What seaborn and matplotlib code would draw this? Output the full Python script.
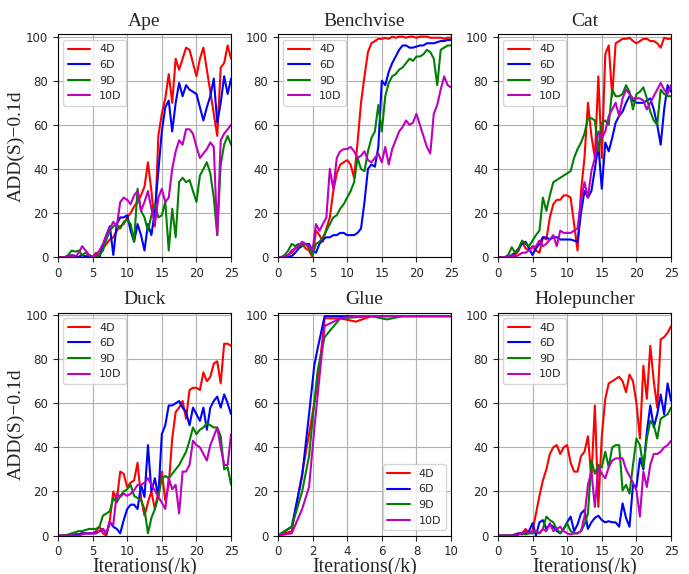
import numpy as np
import pandas as pd
import seaborn as sns
import matplotlib.pyplot as plt

# iterations (k) for the 25k runs, sampled every 0.5k
iters = np.arange(0, 25.01, 0.5)
glue_iters = [0, 0.8, 1.4, 1.8, 2.1, 2.3, 2.7, 3.6, 4.5, 5.4, 6.3, 7.2, 8.1, 9.0, 10.0]

dims = ['4D', '6D', '9D', '10D']
colors = ['r', 'b', 'g', 'm']

ape_4d = [0, 0, 0, 0, 0, 0.5, 0, 1, 0.5, 1, 0, 2, 1, 4, 6, 8, 9, 12, 14, 15, 18, 20, 23, 25, 28, 32,
          43, 30, 14, 55, 65, 72, 83, 70, 90, 85, 90, 95, 94, 88, 82, 90, 95, 85, 75, 65, 55, 86, 88, 96, 90]
ape_6d = [0, 0, 0, 0, 1, 0.5, 0, 1, 0, 0.5, 0, 1, 0, 5, 10, 14, 1, 15, 18, 18, 19, 12, 7, 15, 10, 3,
          15, 10, 21, 39, 57, 68, 71, 57, 70, 79, 73, 78, 76, 75, 74, 68, 62, 68, 73, 81, 61, 70, 82, 74, 81]
ape_9d = [0, 0, 0, 1, 3, 2.5, 3, 1, 2, 1, 0, 0, 1, 3, 8, 12, 14, 15, 13, 16, 17, 15, 7, 31, 21, 18,
          12, 19, 24, 18, 19, 25, 3, 22, 9, 34, 36, 34, 35, 30, 25, 37, 40, 43, 38, 27, 10, 42, 51, 55, 51]
ape_10d = [0, 0, 0, 0, 1, 0, 2, 5, 3, 1, 0, 1, 3, 6, 10, 13, 16, 14, 25, 27, 26, 24, 28, 30, 21, 25,
           30, 22, 15, 27, 31, 25, 27, 40, 48, 53, 51, 58, 58, 56, 50, 45, 47, 49, 52, 50, 10, 53, 56, 58, 60]

bench_4d = [0, 0, 0.5, 1, 2, 4, 5, 6, 4, 3, 0, 12, 10, 7, 13, 18, 30, 38, 42, 43, 44, 42, 36, 52, 70, 82,
            93, 97, 98, 99, 99, 99.5, 99, 100, 99.5, 100, 100, 99.5, 100, 100, 99.5, 100, 100, 100, 99.5,
            99.5, 99.5, 99.5, 99, 99.5, 99.5]
bench_6d = [0, 0, 0, 0, 0.5, 2, 4, 5, 6, 6, 3, 2, 6, 8, 9, 9, 10, 10, 11, 11, 10, 10, 10, 11, 13, 25,
            40, 42, 41, 50, 80, 78, 84, 88, 91, 94, 96, 96, 95, 95, 95.5, 96, 96, 97, 97, 97, 97.5, 98,
            98, 98.5, 98.5]
bench_9d = [0, 0, 1, 3, 6, 5, 6, 5, 6, 4, 1, 6, 7, 9, 12, 15, 18, 19, 22, 24, 27, 30, 34, 45, 40, 39,
            48, 54, 57, 69, 57, 73, 79, 82, 83, 85, 86, 88, 90, 89, 91, 91, 92, 94, 93, 90, 78, 94, 95,
            96, 96]
bench_10d = [0, 0, 0.5, 1, 3, 4, 5, 7, 6, 5, 3, 15, 12, 15, 18, 40, 31, 45, 48, 49, 49, 50, 48, 45, 46,
             48, 44, 43, 45, 47, 43, 50, 42, 49, 53, 57, 59, 62, 60, 61, 65, 60, 55, 50, 47, 65, 69, 76,
             82, 78, 77]

cat_4d = [0, 0, 0, 0, 0, 1, 3, 7, 4, 3, 5, 3, 2, 9, 8, 18, 24, 26, 26, 28, 28, 27, 15, 3, 30, 45, 70,
          55, 45, 82, 45, 92, 96, 73, 97, 98, 99, 99, 99.5, 98, 97, 98, 99, 99, 98, 98, 97, 95, 99.5,
          99, 99]
cat_6d = [0, 0, 0, 0, 1, 2, 4, 6, 7, 4, 1, 4, 6, 9, 9, 8, 9, 9, 8, 8, 8, 8, 7.5, 7, 20, 30, 27, 30,
          40, 51, 31, 52, 48, 54, 61, 64, 66, 70, 73, 71, 70, 70, 70, 71, 72, 67, 60, 51, 67, 78, 75]
cat_9d = [0, 0, 0, 1, 4.5, 2, 4, 7.5, 6, 5, 7.5, 10, 12, 27, 21, 28, 34, 35, 36, 37, 38, 39, 45, 49,
          52, 56, 63, 63, 62, 48, 61, 62, 60, 76, 73, 73, 74, 78, 75, 67, 74, 75, 77, 72, 66, 62, 60,
          76, 74, 73, 73]
cat_10d = [0, 0, 0, 0, 1, 0, 1, 2, 2, 3, 4.5, 5, 7.5, 5, 6, 8, 10, 5, 12, 11, 11, 11, 12, 13, 26, 34,
           27, 39, 45, 57, 54, 57, 64, 67, 70, 64, 72, 76, 74, 72, 72, 72, 71, 67, 70, 73, 76, 79, 76,
           74, 78]

duck_4d = [0, 0, 0, 0, 0, 0.5, 0.5, 1, 1, 1, 1, 2, 4, 1, 0, 7, 20, 16, 29, 28, 22, 24, 25, 33, 17, 9,
           15, 20, 12, 20, 29, 16, 23, 44, 56, 58, 61, 53, 66, 67, 67, 66, 74, 70, 72, 78, 79, 69, 87,
           87, 86]
duck_6d = [0, 0, 0, 0, 0, 0.5, 0.5, 1, 1, 1, 1, 1, 2, 3, 1, 6, 4, 3, 1, 7, 12, 14, 14, 12, 23, 17.5,
           41, 20, 26, 17.5, 46, 50, 59, 59, 60, 61, 58, 56, 50, 58, 55, 52, 58, 48, 58, 61, 63, 58, 64,
           60, 55]
duck_9d = [0, 0, 0, 0.5, 1, 1.5, 2, 2, 2.5, 3, 3, 3, 4, 9, 10, 11, 17, 15, 18, 20, 21, 23, 18, 17, 16,
           12, 1, 8, 12, 17.5, 26, 27, 26, 28, 30, 32, 35, 38, 43, 49, 46, 48, 49, 51, 50, 49, 49, 45, 30,
           31, 23]
duck_10d = [0, 0, 0, 0, 0, 0, 0, 0.5, 1, 1, 1, 1, 2, 3, 1, 6, 5, 19, 17.5, 19, 18, 19, 20.5, 23, 23, 24,
            26, 23, 20.5, 17.5, 15, 12, 26, 21, 23, 10, 29, 29, 32, 43, 41, 40, 37, 34, 41, 45, 49, 40,
            32, 32, 46]

glue_4d = [0, 2, 28, 46, 60, 69, 98.5, 98.5, 97, 99.5, 99.5, 99.5, 99.5, 99.5, 99.5]
glue_6d = [0, 4, 27, 55, 77, 85, 99.5, 99.5, 99.5, 99.5, 99.5, 99.5, 99.5, 99.5, 99.5]
glue_9d = [0, 4, 20, 36, 60, 75, 90, 98.5, 99, 99.5, 98, 99.5, 99.5, 99.5, 99.5]
glue_10d = [0, 1, 12, 22, 48, 64, 95, 98.5, 99.5, 99.5, 99.5, 99.5, 99.5, 99.5, 99.5]

hole_4d = [0, 0, 0, 0, 0, 0.5, 1, 1, 3, 1, 2, 10, 18, 25, 30, 37, 40, 41, 37, 40, 41, 33, 29, 29, 36,
           38, 45, 26, 59, 13, 45, 62, 69, 70, 71, 72, 70, 65, 73, 70, 60, 44, 77, 62, 86, 70, 58, 89,
           90, 92, 95]
hole_6d = [0, 0, 0, 0, 0, 0.5, 1, 0.5, 1, 2, 5.6, 0, 6, 7, 3, 5, 4, 2, 1, 3, 6, 8.6, 2, 5, 10, 11.6, 3,
           6, 8, 9, 7, 6, 6.5, 6, 6, 4, 14.6, 8, 4, 23, 22, 35, 30, 47, 59, 49, 55, 64, 55, 69, 61]
hole_9d = [0, 0, 0, 0, 0, 0, 0.5, 1, 0.5, 1, 1, 2, 1, 3, 8.6, 7, 6, 3, 1, 3, 5.6, 2, 1, 1, 2, 5, 10,
           34, 28, 32, 31, 38, 31, 40, 41, 41, 20.5, 23, 19, 32, 44, 41, 31, 44, 52, 50, 44, 53, 54, 55, 58]
hole_10d = [0, 0, 0, 0, 0, 0, 0.5, 1, 2, 1, 2, 2, 1, 3, 2, 5.6, 2, 3, 4, 2, 1, 0.5, 1, 1, 2, 8.6, 23,
            29, 13, 31, 28, 26, 31, 34, 35, 35, 35, 30, 27, 24, 20.5, 8.6, 29, 22, 32, 37, 37, 38, 40,
            41, 43]

panels = [
    ('Ape', iters, [ape_4d, ape_6d, ape_9d, ape_10d]),
    ('Benchvise', iters, [bench_4d, bench_6d, bench_9d, bench_10d]),
    ('Cat', iters, [cat_4d, cat_6d, cat_9d, cat_10d]),
    ('Duck', iters, [duck_4d, duck_6d, duck_9d, duck_10d]),
    ('Glue', glue_iters, [glue_4d, glue_6d, glue_9d, glue_10d]),
    ('Holepuncher', iters, [hole_4d, hole_6d, hole_9d, hole_10d]),
]

sns.set_style('ticks')
plt.rcParams['font.family'] = ['DejaVu Sans']
serif = 'Liberation Serif'

fig, axes = plt.subplots(2, 3, figsize=(6.89, 5.74), dpi=100)
fig.subplots_adjust(left=0.084, right=0.974, top=0.94, bottom=0.067, wspace=0.27, hspace=0.25)

for i, (ax, (name, x, series)) in enumerate(zip(axes.flat, panels)):
    for dim, col, y in zip(dims, colors, series):
        df = pd.DataFrame({'iter': x, 'acc': y})
        sns.lineplot(data=df, x='iter', y='acc', color=col, linewidth=1.5, label=dim, ax=ax)
    ax.set_title(name, family=serif, fontsize=14)
    if name == 'Glue':
        ax.set_xlim(0, 10)
        ax.set_xticks([0, 2, 4, 6, 8, 10])
        ax.legend(loc='lower right', fontsize=8)
    else:
        ax.set_xlim(0, 25)
        ax.set_xticks([0, 5, 10, 15, 20, 25])
        ax.legend(loc='upper left', fontsize=8)
    ax.set_ylim(0, 101)
    ax.set_yticks([0, 20, 40, 60, 80, 100])
    ax.tick_params(labelsize=8.5, length=3.5)
    ax.grid(True, color='#b0b0b0', linewidth=0.8)
    for sp in ax.spines.values():
        sp.set_color('black')
    ax.set_xlabel('Iterations(/k)' if i >= 3 else '', family=serif, fontsize=14.5, labelpad=0)
    ax.set_ylabel('ADD(S)\u22120.1d' if i % 3 == 0 else '', family=serif, fontsize=14, labelpad=1)

fig.savefig('out.png', dpi=100)
